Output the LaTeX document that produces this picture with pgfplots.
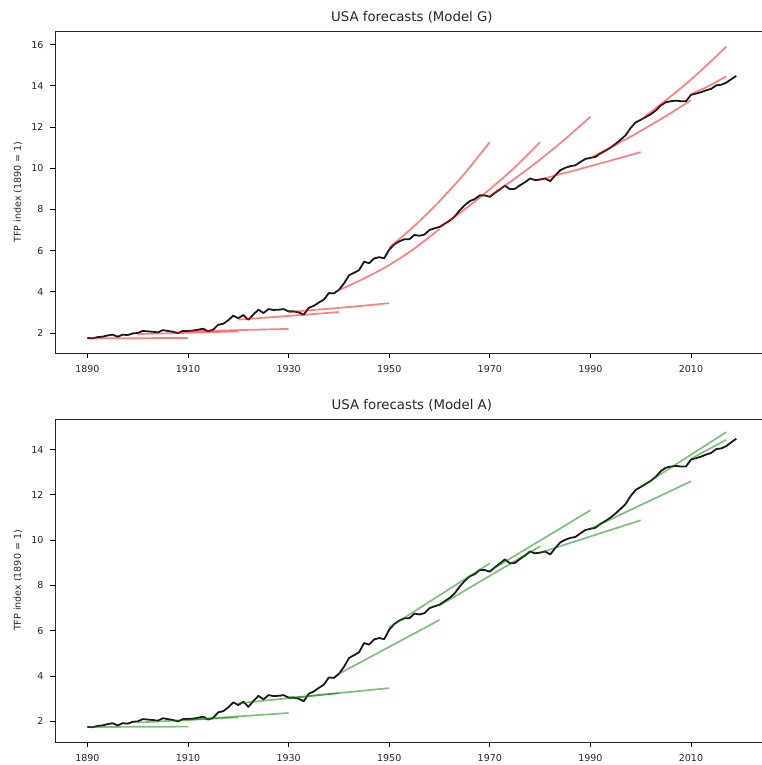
\documentclass[border=0pt]{standalone}
\usepackage{fontspec}
\setmainfont{DejaVu Sans}
\usepackage{pgfplots}
\usepackage{pgfplotstable}
\pgfplotsset{compat=1.18}

\pgfplotstableread{
year tfp
1890 1.76
1891 1.74
1892 1.80
1893 1.82
1894 1.88
1895 1.92
1896 1.82
1897 1.92
1898 1.90
1899 1.98
1900 2.00
1901 2.10
1902 2.08
1903 2.06
1904 2.03
1905 2.14
1906 2.10
1907 2.06
1908 2.00
1909 2.10
1910 2.10
1911 2.12
1912 2.16
1913 2.21
1914 2.08
1915 2.16
1916 2.40
1917 2.45
1918 2.62
1919 2.84
1920 2.72
1921 2.87
1922 2.64
1923 2.90
1924 3.13
1925 2.97
1926 3.16
1927 3.12
1928 3.13
1929 3.16
1930 3.05
1931 3.05
1932 3.00
1933 2.89
1934 3.22
1935 3.32
1936 3.48
1937 3.62
1938 3.94
1939 3.92
1940 4.10
1941 4.40
1942 4.80
1943 4.92
1944 5.05
1945 5.46
1946 5.39
1947 5.62
1948 5.68
1949 5.63
1950 6.05
1951 6.30
1952 6.45
1953 6.55
1954 6.55
1955 6.76
1956 6.72
1957 6.78
1958 7.00
1959 7.08
1960 7.15
1961 7.30
1962 7.45
1963 7.65
1964 7.95
1965 8.20
1966 8.40
1967 8.50
1968 8.68
1969 8.68
1970 8.61
1971 8.80
1972 8.97
1973 9.15
1974 8.98
1975 9.00
1976 9.17
1977 9.32
1978 9.50
1979 9.42
1980 9.45
1981 9.50
1982 9.37
1983 9.65
1984 9.90
1985 10.02
1986 10.10
1987 10.14
1988 10.30
1989 10.45
1990 10.50
1991 10.55
1992 10.72
1993 10.85
1994 11.00
1995 11.18
1996 11.38
1997 11.60
1998 11.95
1999 12.22
2000 12.35
2001 12.48
2002 12.62
2003 12.80
2004 13.05
2005 13.20
2006 13.25
2007 13.28
2008 13.25
2009 13.25
2010 13.56
2011 13.62
2012 13.69
2013 13.78
2014 13.85
2015 14.02
2016 14.05
2017 14.15
2018 14.32
2019 14.48
}\actual

\definecolor{fcred}{RGB}{255,0,0}
\definecolor{fcgreen}{RGB}{0,128,0}

\pgfplotsset{
  tfpaxis/.style={
    scale only axis, anchor=south west,
    width=713.7pt,
    xmin=1883.55, xmax=2025.45,
    xtick={1890,1910,1930,1950,1970,1990,2010},
    /pgf/number format/assume math mode=true,
    /pgf/number format/1000 sep={},
    tick align=outside, tick pos=left,
    major tick length=5pt,
    every tick/.style={black, line width=0.8pt},
    axis line style={line width=0.9pt, black!85},
    tick label style={font=\fontsize{9.5}{11}\selectfont, black!85},
    xticklabel style={yshift=-4pt},
    yticklabel style={xshift=-3pt},
    ylabel={TFP index (1890 = 1)},
    ylabel style={font=\fontsize{9.5}{11}\selectfont, black!85, at={(axis description cs:-0.052,0.5)}, anchor=center},
    title style={font=\fontsize{13.3}{15}\selectfont, black!85, yshift=-2pt},
  },
  act/.style={black!90, line width=1.8pt, line join=round},
  fg/.style={fcred, opacity=0.5, line width=1.7pt, smooth},
  fa/.style={fcgreen, opacity=0.5, line width=1.7pt},
}

\begin{document}
\begin{tikzpicture}[x=1pt,y=1pt]
\begin{axis}[tfpaxis, at={(55pt,412pt)}, height=322pt,
  ymin=1.03, ymax=16.66, ytick={2,4,...,16},
  title={USA forecasts (Model G)}]
\addplot[act] table[x=year,y=tfp] {\actual};
\addplot[fg] coordinates {(1890,1.74) (1900,1.75) (1910,1.76)};
\addplot[fg] coordinates {(1900,1.95) (1910,2.01) (1920,2.08)};
\addplot[fg] coordinates {(1910,2.08) (1920,2.14) (1930,2.20)};
\addplot[fg] coordinates {(1920,2.65) (1925,2.74) (1930,2.83) (1935,2.92) (1940,3.02)};
\addplot[fg] coordinates {(1930,3.02) (1935,3.12) (1940,3.22) (1945,3.33) (1950,3.45)};
\addplot[fg] coordinates {(1940,4.08) (1945,4.65) (1950,5.30) (1955,6.10) (1960,7.05)};
\addplot[fg] coordinates {(1950,6.15) (1955,7.20) (1960,8.40) (1965,9.75) (1970,11.27)};
\addplot[fg] coordinates {(1960,7.12) (1965,8.00) (1970,8.98) (1975,10.05) (1980,11.27)};
\addplot[fg] coordinates {(1970,8.65) (1975,9.50) (1980,10.42) (1985,11.42) (1990,12.50)};
\addplot[fg] coordinates {(1980,9.45) (1990,10.10) (2000,10.78)};
\addplot[fg] coordinates {(1990,10.50) (1995,11.13) (2000,11.81) (2005,12.53) (2010,13.30)};
\addplot[fg] coordinates {(2000,12.35) (2005,13.30) (2010,14.30) (2015,15.43) (2017,15.90)};
\addplot[fg] coordinates {(2010,13.60) (2013,13.93) (2017,14.45)};
\end{axis}

\begin{axis}[tfpaxis, at={(55pt,23pt)}, height=323pt,
  ymin=1.09, ymax=15.35, ytick={2,4,...,14},
  title={USA forecasts (Model A)}]
\addplot[act] table[x=year,y=tfp] {\actual};
\addplot[fa] coordinates {(1890,1.75) (1910,1.77)};
\addplot[fa] coordinates {(1900,1.95) (1920,2.18)};
\addplot[fa] coordinates {(1910,2.07) (1930,2.37)};
\addplot[fa] coordinates {(1920,2.80) (1940,3.25)};
\addplot[fa] coordinates {(1930,3.03) (1950,3.47)};
\addplot[fa] coordinates {(1940,4.10) (1960,6.48)};
\addplot[fa] coordinates {(1950,6.15) (1970,8.98)};
\addplot[fa] coordinates {(1960,7.12) (1980,9.73)};
\addplot[fa] coordinates {(1970,8.65) (1990,11.32)};
\addplot[fa] coordinates {(1980,9.45) (2000,10.88)};
\addplot[fa] coordinates {(1990,10.50) (2010,12.60)};
\addplot[fa] coordinates {(2000,12.35) (2017,14.77)};
\addplot[fa] coordinates {(2010,13.60) (2017,14.43)};
\end{axis}
\pgfresetboundingbox
\path[use as bounding box] (0,0) rectangle (762,765);
\end{tikzpicture}
\end{document}
